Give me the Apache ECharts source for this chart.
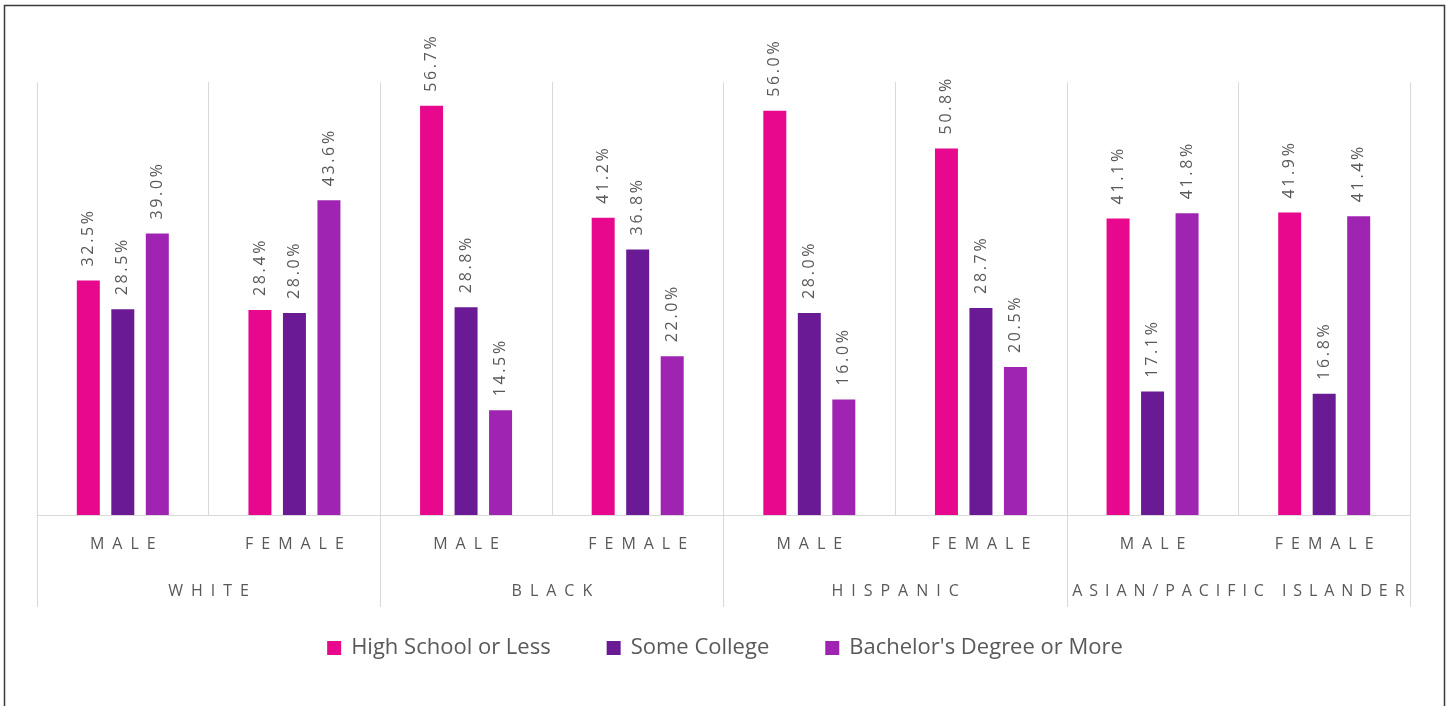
<!DOCTYPE html>
<html>
<head>
<meta charset="utf-8">
<title>Education by race and gender</title>
<script src="https://cdn.jsdelivr.net/npm/echarts@6/dist/echarts.min.js"></script>
<style>
  html, body { margin: 0; padding: 0; background: #fff; }
  #chart { width: 1450px; height: 706px; }
</style>
</head>
<body>
<div id="chart"></div>
<script>
// data
const genders = ["MALE", "FEMALE", "MALE", "FEMALE", "MALE", "FEMALE", "MALE", "FEMALE"];
const groups = ["WHITE", "BLACK", "HISPANIC", "ASIAN/PACIFIC ISLANDER"];

const highSchool = [32.5, 28.4, 56.7, 41.2, 56.0, 50.8, 41.1, 41.9];
const someCollege = [28.5, 28.0, 28.8, 36.8, 28.0, 28.7, 17.1, 16.8];
const bachelors = [39.0, 43.6, 14.5, 22.0, 16.0, 20.5, 41.8, 41.4];

const seriesNames = ["High School or Less", "Some College", "Bachelor's Degree or More"];
const colors = ["#e8088e", "#6b1a95", "#9f24b2"];

const textGrey = "#595959";
const gridGrey = "#d9d9d9";

// spread letters out a bit, the original uses letter spacing
function spaced(str, sep) {
  return str.split("").join(sep);
}

const chart = echarts.init(document.getElementById("chart"));

function makeSeries(name, values, color) {
  return {
    name: name,
    type: "bar",
    xAxisIndex: 0,
    data: values,
    barWidth: 23,
    barGap: "50%",
    itemStyle: { color: color },
    label: {
      show: true,
      position: "top",
      rotate: 90,
      align: "left",
      verticalAlign: "middle",
      distance: 14,
      color: textGrey,
      fontFamily: "Open Sans",
      fontSize: 16,
      formatter: function (p) {
        return spaced(p.value.toFixed(1) + "%", "\u2009");
      }
    }
  };
}

chart.setOption({
  animation: false,
  textStyle: { fontFamily: "Open Sans" },
  graphic: [
    {
      type: "rect",
      shape: { x: 4.5, y: 5.5, width: 1440, height: 710 },
      style: { fill: "none", stroke: "#3a3a3a", lineWidth: 1.5 },
      silent: true
    }
  ],
  grid: { left: 37, right: 40, top: 82, bottom: 191 },
  legend: {
    bottom: 42,
    left: "center",
    itemWidth: 14,
    itemHeight: 14,
    itemGap: 56,
    icon: "rect",
    textStyle: { color: textGrey, fontSize: 22, fontFamily: "Open Sans", padding: [0, 0, 0, 5] },
    data: seriesNames
  },
  xAxis: [
    {
      type: "category",
      data: genders,
      position: "bottom",
      axisLine: { show: true, lineStyle: { color: gridGrey, width: 1 } },
      axisTick: { show: false },
      splitLine: { show: true, lineStyle: { color: gridGrey, width: 1 } },
      axisLabel: {
        interval: 0,
        margin: 21,
        color: textGrey,
        fontSize: 16,
        formatter: function (v) { return spaced(v, "\u2004\u2009"); }
      }
    },
    {
      type: "category",
      data: groups,
      position: "bottom",
      axisLine: { show: false },
      axisTick: { show: true, length: 92, lineStyle: { color: gridGrey, width: 1 } },
      splitLine: { show: false },
      axisLabel: {
        interval: 0,
        margin: 68,
        color: textGrey,
        fontSize: 16,
        formatter: function (v) {
          // the long label is packed tighter so it fits its block
          return spaced(v, v.length > 12 ? "\u2004\u200a" : "\u2004\u2009");
        }
      }
    }
  ],
  yAxis: {
    type: "value",
    min: 0,
    max: 60,
    show: false,
    splitLine: { show: false }
  },
  series: [
    makeSeries(seriesNames[0], highSchool, colors[0]),
    makeSeries(seriesNames[1], someCollege, colors[1]),
    makeSeries(seriesNames[2], bachelors, colors[2])
  ]
});
</script>
</body>
</html>
